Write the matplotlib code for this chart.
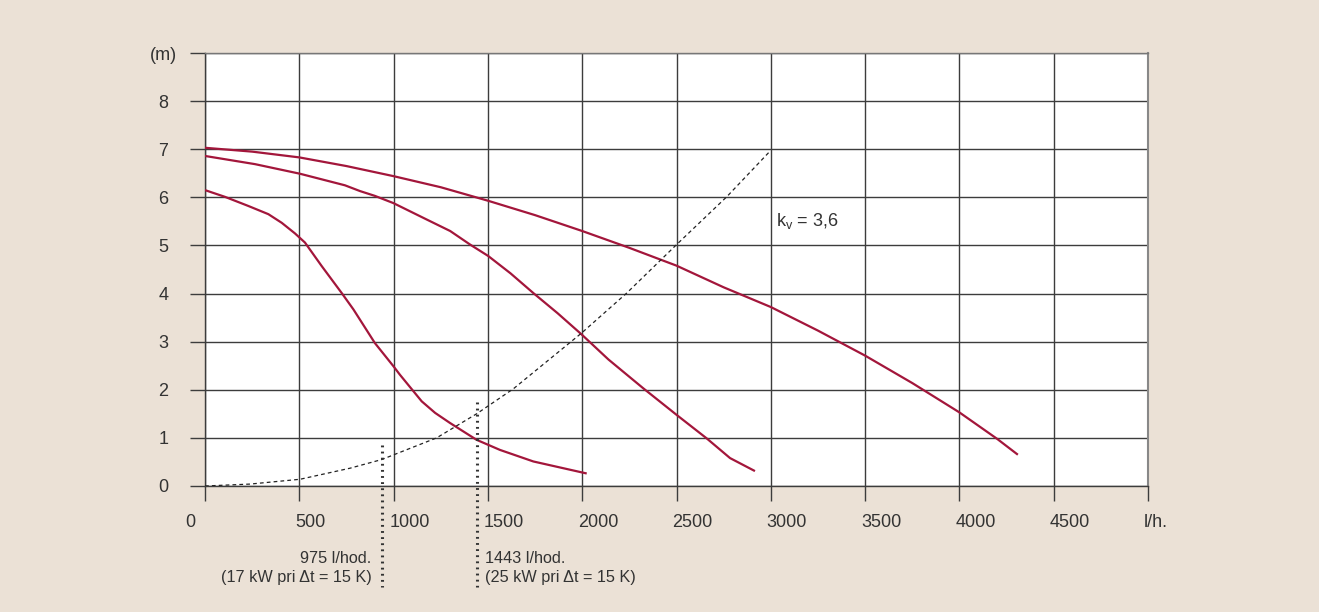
import matplotlib.pyplot as plt
import matplotlib.transforms as mtransforms

# pump curves (flow l/h, head m)
q1 = [0, 250, 500, 750, 1000, 1250, 1500, 1750, 2000, 2250, 2500, 2750, 3000, 3250, 3500, 3750, 4000, 4200, 4310]
h1 = [7.03, 6.95, 6.83, 6.65, 6.44, 6.21, 5.93, 5.63, 5.30, 4.95, 4.58, 4.13, 3.72, 3.23, 2.71, 2.14, 1.53, 0.98, 0.65]

q2 = [0, 265, 504, 742, 822, 901, 999, 1175, 1300, 1405, 1502, 1620, 1741, 1870, 1997, 2139, 2324, 2500, 2660, 2784, 2916]
h2 = [6.86, 6.69, 6.49, 6.25, 6.13, 6.03, 5.88, 5.54, 5.30, 5.02, 4.78, 4.42, 4.01, 3.59, 3.15, 2.63, 2.03, 1.48, 0.99, 0.58, 0.31]

q3 = [0, 106, 230, 336, 407, 477, 530, 619, 725, 787, 901, 999, 1034, 1149, 1220, 1299, 1440, 1564, 1741, 2024]
h3 = [6.15, 6.01, 5.82, 5.65, 5.47, 5.25, 5.06, 4.57, 4.01, 3.67, 2.97, 2.49, 2.31, 1.76, 1.52, 1.31, 0.96, 0.75, 0.51, 0.26]

# k_v = 3,6 system curve
qk = [0, 239, 504, 769, 937, 1228, 1440, 1635, 1997, 2236, 2501, 2766, 2996]
hk = [0.0, 0.04, 0.14, 0.37, 0.55, 1.00, 1.50, 2.02, 3.18, 4.01, 5.02, 6.01, 6.96]

# working points
qmark = [937, 1440]
hmark = [0.85, 1.74]
mark_txt = ["975 l/hod.\n(17 kW pri \u0394t = 15 K)", "1443 l/hod.\n(25 kW pri \u0394t = 15 K)"]

xticks = [0, 500, 1000, 1500, 2000, 2500, 3000, 3500, 4000, 4500, 5000]
xlabels = ["0", "500", "1000", "1500", "2000", "2500", "3000", "3500", "4000", "4500", "l/h."]
yticks = [0, 1, 2, 3, 4, 5, 6, 7, 8, 9]
ylabels = ["0", "1", "2", "3", "4", "5", "6", "7", "8", "(m)"]

bg = '#ebe1d6'
red = '#a3163b'
gridc = '#3c3c3c'
txtc = '#333333'

plt.rcParams['font.family'] = ['Liberation Sans', 'DejaVu Sans']

fig = plt.figure(figsize=(13.19, 6.12), dpi=100, facecolor=bg)
ax = fig.add_axes([205/1319, 1-486/612, 943/1319, 433/612])
ax.set_facecolor('white')
ax.set_xlim(0, 5000)
ax.set_ylim(0, 9)

ax.set_xticks(xticks)
ax.set_xticklabels(xlabels)
ax.set_yticks(yticks)
ax.set_yticklabels(ylabels)
ax.grid(True, color=gridc, lw=1.0)
ax.tick_params(axis='both', direction='out', length=11, width=1.0, color=gridc,
               labelsize=13, labelcolor=txtc)
ax.tick_params(axis='x', pad=9)
ax.tick_params(axis='y', pad=19)
for t in ax.get_yticklabels():
    t.set_ha('center')
# x labels sit just right of their tick, except the zero
for i, t in enumerate(ax.get_xticklabels()):
    if i == 0:
        t.set_ha('right')
        dx = -7 / 72
    else:
        t.set_ha('left')
        dx = -3 / 72
    t.set_transform(t.get_transform() + mtransforms.ScaledTranslation(dx, 0, fig.dpi_scale_trans))
for s in ax.spines.values():
    s.set_color(gridc)
    s.set_linewidth(1.0)
ax.spines['top'].set_color('#777777')
ax.spines['right'].set_color('#888888')
ax.spines['right'].set_linewidth(1.5)

for q, h in [(q1, h1), (q2, h2), (q3, h3)]:
    ax.plot(q, h, color=red, lw=1.6, zorder=3, solid_joinstyle='round', solid_capstyle='butt')
ax.plot(qk, hk, color='#222222', lw=0.9, ls=(0, (3, 2.5)), zorder=3)

ax.text(3030, 5.5, "k$_\\mathregular{v}$ = 3,6", fontsize=13, color=txtc, va='center')

for i in range(2):
    ax.plot([qmark[i], qmark[i]], [hmark[i], -2.1], color=txtc, lw=2.2,
            ls=(0, (0.6, 1.4)), clip_on=False, zorder=4)
ax.text(qmark[0] - 55, -1.7, mark_txt[0], fontsize=11.7, color=txtc,
        ha='right', va='center', linespacing=1.35)
ax.text(qmark[1] + 45, -1.7, mark_txt[1], fontsize=11.7, color=txtc,
        ha='left', va='center', linespacing=1.35)

fig.savefig('out.png', dpi=100, facecolor=bg)
